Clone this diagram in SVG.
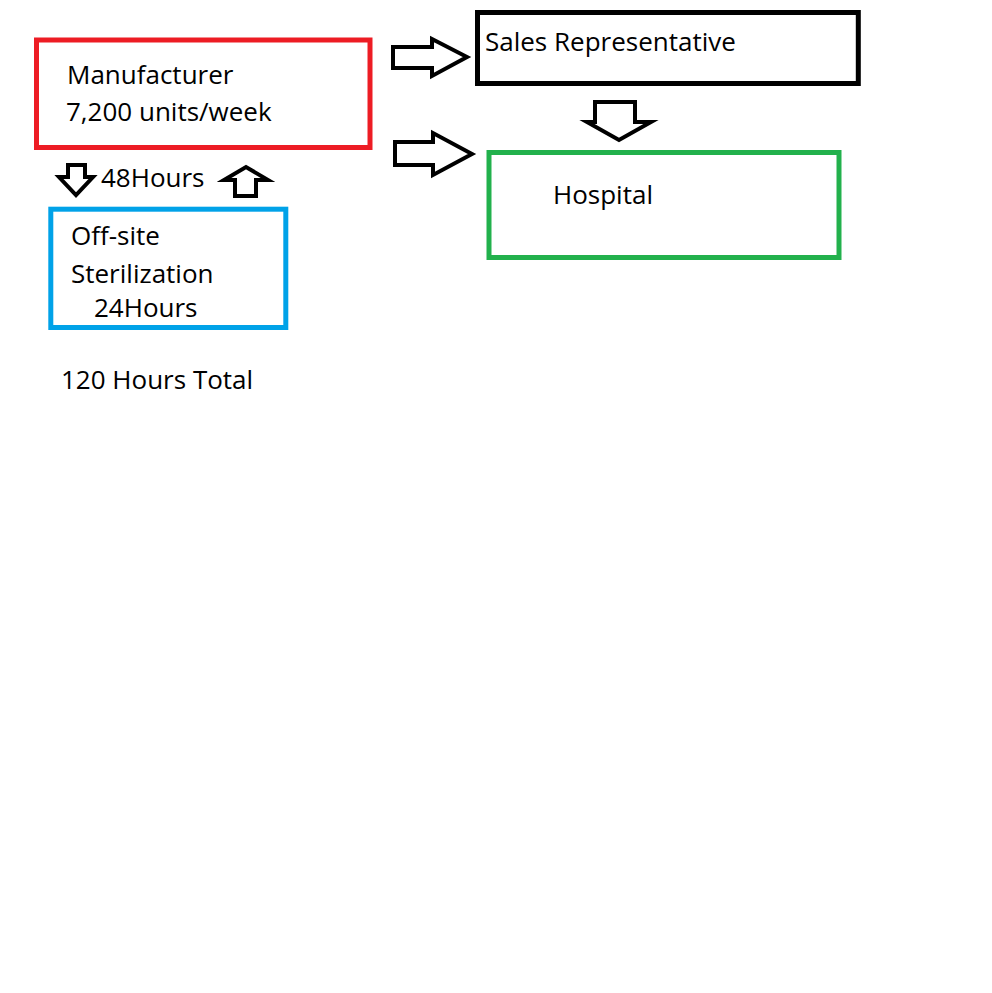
<svg xmlns="http://www.w3.org/2000/svg" width="992" height="993" viewBox="0 0 992 993">
<style>
.t{font-family:"Open Sans","Noto Sans","Liberation Sans",sans-serif;font-size:26px;fill:#000}
.box{fill:none;stroke-width:5}
.arr{fill:#fff;stroke:#000;stroke-width:4;stroke-linejoin:miter}
</style>
<rect width="992" height="993" fill="#fff"/>
<g id="manufacturer">
<rect class="box" x="36.5" y="40" width="333.5" height="107.5" stroke="#ed1c24"/>
<text class="t" x="67" y="84">Manufacturer</text>
<text class="t" x="66" y="121">7,200 units/week</text>
</g>
<g id="sales-representative">
<rect class="box" x="477.5" y="12.5" width="380.8" height="71" stroke="#000"/>
<text class="t" x="485" y="51">Sales Representative</text>
</g>
<g id="hospital">
<rect class="box" x="489" y="152.5" width="350" height="105" stroke="#22b14c"/>
<text class="t" x="553" y="204">Hospital</text>
</g>
<g id="sterilization">
<rect class="box" x="50.8" y="209.2" width="235" height="118.3" stroke="#00a2e8"/>
<text class="t" x="71" y="245">Off-site</text>
<text class="t" x="71" y="283">Sterilization</text>
<text class="t" x="94" y="317">24Hours</text>
</g>
<g id="labels">
<text class="t" x="101" y="187">48Hours</text>
<text class="t" x="61" y="389">120 Hours Total</text>
</g>
<g id="connectors">
<polygon class="arr" points="393,47 432,47 432,39 467,57 432,76 432,68 393,68"/>
<polygon class="arr" points="395,142 433,142 433,133 472,154 433,175 433,165 395,165"/>
<polygon class="arr" points="595,102 635,102 635,122 651,122 619,140 587,122 595,122"/>
<polygon class="arr" points="68,165 85,165 85,177 93,177 76,195 59,177 68,177"/>
<polygon class="arr" points="235,196 256,196 256,180 268,180 246,167 224,180 235,180"/>
</g>
</svg>
